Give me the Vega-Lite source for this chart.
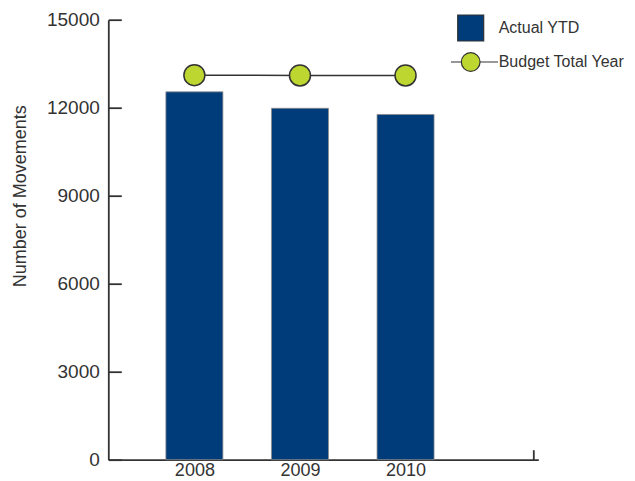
{
  "$schema": "https://vega.github.io/schema/vega-lite/v6.json",
  "autosize": "none",
  "width": 430,
  "height": 440,
  "padding": {"left": 108.3, "top": 19.7, "right": 96.7, "bottom": 21.3},
  "background": "white",
  "config": {"view": {"stroke": null}},
  "data": {"values": [
    {"year": 2008, "actual": 12540, "budget": 13110},
    {"year": 2009, "actual": 11980, "budget": 13100},
    {"year": 2010, "actual": 11770, "budget": 13100}
  ]},
  "encoding": {
    "x": {
      "field": "year", "type": "quantitative",
      "scale": {"domain": [2007.232, 2011.21], "nice": false, "zero": false},
      "axis": {
        "title": null,
        "values": [2008, 2009, 2010, 2011.21],
        "format": "d",
        "labelExpr": "datum.value > 2011 ? '' : datum.label",
        "labelFlush": false,
        "labelOverlap": false,
        "grid": false,
        "domainColor": "#333333",
        "domainWidth": 1.8,
        "tickColor": "#333333",
        "tickWidth": 1.8,
        "tickSize": -10,
        "tickOpacity": {"condition": {"test": "datum.value > 2011", "value": 1}, "value": 0},
        "labelPadding": 12,
        "labelFont": "Liberation Sans",
        "labelFontSize": 18,
        "labelColor": "#333333"
      }
    }
  },
  "layer": [
    {
      "mark": {"type": "bar", "width": 57, "stroke": "#8c8c8c", "strokeWidth": 0.8},
      "encoding": {
        "y": {
          "field": "actual", "type": "quantitative",
          "scale": {"domain": [0, 15000], "nice": false},
          "axis": {
            "title": "Number of Movements",
            "values": [0, 3000, 6000, 9000, 12000, 15000],
            "format": "d",
            "grid": false,
            "domainColor": "#333333",
            "domainWidth": 1.8,
            "tickColor": "#333333",
            "tickWidth": 1.8,
            "tickSize": -13,
            "labelPadding": 22,
            "labelFont": "Liberation Sans",
            "labelFontSize": 19,
            "labelColor": "#333333",
            "titleFont": "Liberation Sans",
            "titleFontSize": 18,
            "titleFontWeight": "normal",
            "titleColor": "#333333",
            "titleAngle": 270,
            "titleAlign": "center",
            "titleBaseline": "alphabetic",
            "titleX": -83,
            "titleY": 176
          }
        },
        "color": {
          "datum": "Actual YTD",
          "scale": {"domain": ["Actual YTD", "Budget Total Year"], "range": ["#003b7a", "#bdd630"]},
          "legend": {
            "title": null,
            "orient": "none",
            "legendX": 348.4,
            "legendY": -5.7,
            "padding": 0,
            "symbolSize": 676,
            "symbolStrokeColor": "#333333",
            "symbolStrokeWidth": 1.2,
            "symbolOpacity": 1,
            "rowPadding": 4,
            "labelOffset": 14,
            "labelFont": "Liberation Sans",
            "labelFontSize": 16,
            "labelColor": "#333333",
            "labelBaseline": "middle",
            "encode": {
              "symbols": {
                "update": {
                  "shape": {"signal": "datum.value === 'Actual YTD' ? 'square' : 'M-1.52,0L-0.72,0M0.72,0L2.1,0M0.72,0A0.72,0.72,0,1,1,-0.72,0A0.72,0.72,0,1,1,0.72,0Z'"}
                }
              }
            }
          }
        }
      }
    },
    {
      "mark": {"type": "line", "color": "#333333", "strokeWidth": 1.5},
      "encoding": {
        "y": {"field": "budget", "type": "quantitative"}
      }
    },
    {
      "mark": {"type": "point", "filled": true, "opacity": 1, "size": 441, "stroke": "#333333", "strokeWidth": 1.5, "shape": "circle"},
      "encoding": {
        "y": {"field": "budget", "type": "quantitative"},
        "color": {"datum": "Budget Total Year"}
      }
    }
  ]
}
